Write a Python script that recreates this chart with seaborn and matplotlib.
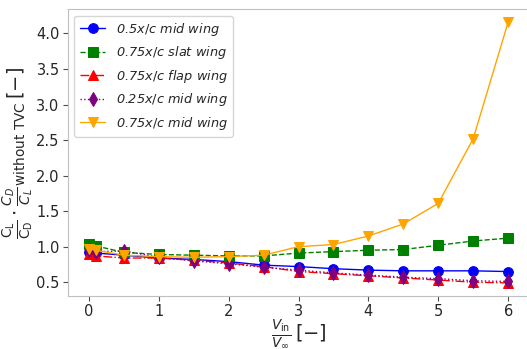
import matplotlib
matplotlib.use("Agg")
import matplotlib.pyplot as plt
import seaborn as sns
import pandas as pd

# Velocity ratio V_in / V_inf
velocity_ratio = [0, 0.1, 0.5, 1, 1.5, 2, 2.5, 3, 3.5, 4, 4.5, 5, 5.5, 6]

# Normalised L/D ratio for each configuration
mid_050 = [0.92, 0.91, 0.88, 0.84, 0.82, 0.79, 0.74, 0.72, 0.69, 0.67, 0.66, 0.66, 0.66, 0.65]
slat_075 = [1.04, 1.01, 0.92, 0.89, 0.88, 0.87, 0.87, 0.91, 0.93, 0.95, 0.96, 1.02, 1.08, 1.12]
flap_075 = [0.90, 0.87, 0.84, 0.84, 0.81, 0.77, 0.72, 0.65, 0.62, 0.59, 0.56, 0.53, 0.50, 0.49]
mid_025 = [0.95, 0.93, 0.94, 0.85, 0.80, 0.76, 0.71, 0.67, 0.63, 0.60, 0.57, 0.55, 0.52, 0.51]
mid_075 = [0.97, 0.95, 0.88, 0.86, 0.85, 0.86, 0.88, 1.00, 1.03, 1.15, 1.32, 1.61, 2.52, 4.16]

series_labels = [
    "0.5$x/c$ mid wing",
    "0.75$x/c$ slat wing",
    "0.75$x/c$ flap wing",
    "0.25$x/c$ mid wing",
    "0.75$x/c$ mid wing",
]
series_values = [mid_050, slat_075, flap_075, mid_025, mid_075]
colors = ["blue", "green", "red", "purple", "orange"]
markers = ["o", "s", "^", "d", "v"]
linestyles = ["-", "--", "-.", ":", "-"]

sns.set_style("whitegrid", {
    "axes.grid": False,
    "xtick.bottom": True,
    "ytick.left": True,
    "axes.edgecolor": "0.75",
})
plt.rcParams["font.family"] = ["DejaVu Sans"]
plt.rcParams["mathtext.fontset"] = "dejavusans"

fig = plt.figure(figsize=(5.27, 3.49), dpi=100)
ax = fig.add_axes([0.129, 0.152, 0.875, 0.822])

for label, vals, c, m, ls in zip(series_labels, series_values, colors, markers, linestyles):
    df = pd.DataFrame({"x": velocity_ratio, "y": vals})
    sns.lineplot(data=df, x="x", y="y", ax=ax, color=c, marker=m, linestyle=ls,
                 linewidth=1, markersize=7, markeredgecolor=c, label=label)

ax.tick_params(axis="both", labelsize=10.5, length=3.5, width=0.8, color="0.3", pad=2.5)
ax.set_xticks([0, 1, 2, 3, 4, 5, 6])
ax.set_yticks([0.5, 1.0, 1.5, 2.0, 2.5, 3.0, 3.5, 4.0])

ax.set_xlabel(r"$\frac{V_{\mathrm{in}}}{V_{\infty}}\,[-]$", fontsize=14, labelpad=-1)
ax.set_ylabel(r"$\frac{\mathrm{C_L}}{\mathrm{C_D}}\cdot\frac{C_D}{C_L}_{\mathrm{without\ TVC}}\,[-]$",
              fontsize=14, labelpad=1)

leg = ax.legend(loc="upper left", frameon=True, prop={"style": "italic", "size": 9.3})
leg.get_frame().set_edgecolor("0.8")

fig.savefig("out.png", dpi=100)
